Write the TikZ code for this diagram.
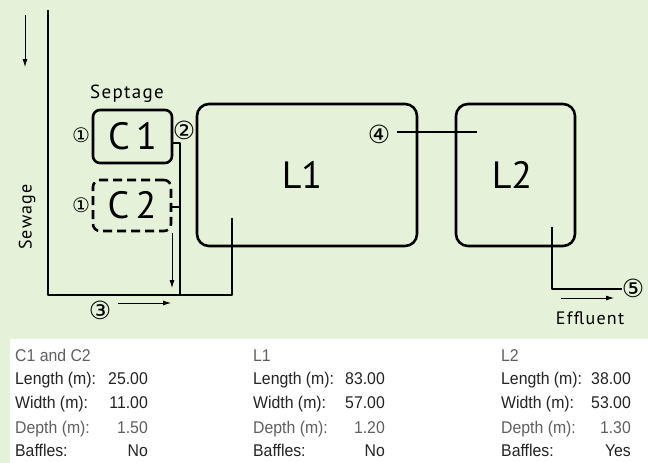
\documentclass[tikz,border=0pt]{standalone}
\usepackage{fontspec}
\setmainfont{PT Sans}
\newfontfamily\spacedfont[LetterSpace=7]{PT Sans}
\newfontfamily\tabfont[FakeStretch=0.93]{Liberation Sans}
\newfontfamily\symfont{DejaVu Sans}
\usepackage{xcolor}
\usetikzlibrary{arrows.meta}
\definecolor{bggreen}{RGB}{230,241,217}
\definecolor{txtdark}{RGB}{35,35,35}
\definecolor{txtgray}{RGB}{95,95,95}
\tikzset{
  pipe/.style={line width=2.6pt},
  tank/.style={draw,line width=2.6pt,rounded corners=7pt,inner sep=0pt},
  bigtxt/.style={font=\fontsize{38}{38}\selectfont},
  flow/.style={line width=0.8pt,-{Latex[length=8pt,width=5pt]}},
  num/.style={font=\symfont\fontsize{25}{25}\selectfont,inner sep=0pt},
  smallnum/.style={font=\symfont\fontsize{20}{20}\selectfont,inner sep=0pt},
  lbl/.style={font=\spacedfont\fontsize{18}{18}\selectfont,inner sep=0pt},
  tabl/.style={font=\tabfont\fontsize{17}{17}\selectfont,anchor=base west,inner sep=0pt,text=txtdark},
  tabv/.style={font=\tabfont\fontsize{17}{17}\selectfont,anchor=base east,inner sep=0pt,text=txtdark}
}
\begin{document}
\begin{tikzpicture}[line cap=butt,line join=round,x=1pt,y=-1pt]
		\useasboundingbox (0,0) rectangle (648,463);
		\fill[bggreen] (0,0) rectangle (648,463);
		\fill[white] (10,339) rectangle (648,463);
		% tanks
		\node[tank,bigtxt,minimum width=79,minimum height=53] (c1) at (132.5,136.5) {C\,1};
		\node[tank,bigtxt,dashed,dash pattern=on 9pt off 5pt,minimum width=78,minimum height=51] (c2) at (132,205.5) {C\,2};
		\node[tank,rounded corners=12pt,minimum width=220,minimum height=142] (l1) at (307,175) {};
		\node[bigtxt] (l1t) at (302,175) {L1};
		\node[tank,rounded corners=12pt,minimum width=119,minimum height=142] (l2) at (515.5,175) {};
		\node[bigtxt] (l2t) at (512,175) {L2};
		% labels
		\node[lbl,font=\spacedfont\fontsize{19}{19}\selectfont] (septage) at (127,94) {Septage};
		\node[lbl,rotate=90] (sewage) at (27,217) {Sewage};
		\node[lbl] (effluent) at (590,318) {Effluent};
		\node[smallnum] (n1a) at (81,135) {①};
		\node[smallnum] (n1b) at (81,205) {①};
		\node[num] (n2) at (184,130) {②};
		\node[num] (n3) at (100,310) {③};
		\node[num] (n4) at (379,134) {④};
		\node[num] (n5) at (633,288) {⑤};
		% pipe network
		\coordinate (sewtop) at (48,10);
		\coordinate (sewbot) at (48,295);
		\coordinate (septbot) at (180,295);
		\coordinate (l1in) at (232,218);
		\coordinate (c1out) at (180,143);
		\coordinate (c2out) at (180,207);
		\coordinate (l2out) at (552,227);
		\coordinate (l2bend) at (552,289);
		\coordinate (l1out) at (397,132);
		\coordinate (l2in) at (477,132);
		\draw[pipe] (sewtop) -- (sewbot) -- (l1in |- sewbot) -- (l1in);
		\draw[pipe] (c1.east |- c1out) -- (c1out) -- (septbot);
		\draw[pipe] (c2.east |- c2out) -- (c2out);
		\draw[pipe] (l1out) -- (l2in);
		\draw[pipe] (l2out) -- (l2bend) -- (n5.west |- l2bend);
		% flow arrows
		\draw[flow] (25,15) -- (25,67);
		\draw[flow] (172,233) -- (172,288);
		\draw[flow] (118,303) -- (171,303);
		\draw[flow] (561,298) -- (614,298);
		% table
		\node[tabl,text=txtgray] (h1) at (15,361) {C1 and C2};
		\node[tabl] (a1) at (15,384) {Length (m):};
		\node[tabv] (a1v) at (148,384) {25.00};
		\node[tabl] (a2) at (15,408) {Width (m):};
		\node[tabv] (a2v) at (148,408) {11.00};
		\node[tabl,text=txtgray] (a3) at (15,433) {Depth (m):};
		\node[tabv,text=txtgray] (a3v) at (148,433) {1.50};
		\node[tabl] (a4) at (15,456) {Baffles:};
		\node[tabv] (a4v) at (148,456) {No};
		\node[tabl,text=txtgray] (h2) at (253,361) {L1};
		\node[tabl] (b1) at (253,384) {Length (m):};
		\node[tabv] (b1v) at (385,384) {83.00};
		\node[tabl] (b2) at (253,408) {Width (m):};
		\node[tabv] (b2v) at (385,408) {57.00};
		\node[tabl,text=txtgray] (b3) at (253,433) {Depth (m):};
		\node[tabv,text=txtgray] (b3v) at (385,433) {1.20};
		\node[tabl] (b4) at (253,456) {Baffles:};
		\node[tabv] (b4v) at (385,456) {No};
		\node[tabl,text=txtgray] (h3) at (501,361) {L2};
		\node[tabl] (d1) at (501,384) {Length (m):};
		\node[tabv] (d1v) at (631,384) {38.00};
		\node[tabl] (d2) at (501,408) {Width (m):};
		\node[tabv] (d2v) at (631,408) {53.00};
		\node[tabl,text=txtgray] (d3) at (501,433) {Depth (m):};
		\node[tabv,text=txtgray] (d3v) at (631,433) {1.30};
		\node[tabl] (d4) at (501,456) {Baffles:};
		\node[tabv] (d4v) at (631,456) {Yes};
	\end{tikzpicture}
\end{document}
